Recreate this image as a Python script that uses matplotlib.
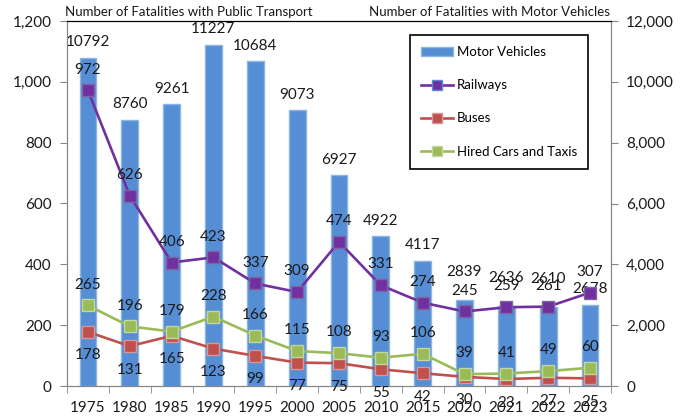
import matplotlib
matplotlib.use("Agg")
import matplotlib.pyplot as plt
import matplotlib.ticker as ticker
from matplotlib.patches import Patch
from matplotlib.lines import Line2D
import numpy as np

plt.rcParams["font.family"] = ["Lato", "DejaVu Sans"]

# Data
years = ["1975", "1980", "1985", "1990", "1995", "2000", "2005",
         "2010", "2015", "2020", "2021", "2022", "2023"]
motor_vehicles = [10792, 8760, 9261, 11227, 10684, 9073, 6927,
                  4922, 4117, 2839, 2636, 2610, 2678]
railways = [972, 626, 406, 423, 337, 309, 474, 331, 274, 245, 259, 261, 307]
buses = [178, 131, 165, 123, 99, 77, 75, 55, 42, 30, 23, 27, 25]
hired_cars = [265, 196, 179, 228, 166, 115, 108, 93, 106, 39, 41, 49, 60]

bar_color = "#558ED5"
rail_color = "#7030A0"
bus_color = "#C0504D"
taxi_color = "#9BBB59"
spine_gray = "#868686"
text_color = "#1a1a1a"

fig = plt.figure(figsize=(6.82, 4.16), dpi=100)
ax = fig.add_axes([67 / 682, 30 / 416, 544 / 682, 365 / 416])
ax2 = ax.twinx()
ax.set_zorder(2)
ax.patch.set_visible(False)

x = np.arange(len(years))

# Bars on the right axis
ax2.bar(x, motor_vehicles, width=0.4, color=bar_color,
        edgecolor="#8DB4E2", linewidth=1)
ax2.set_ylim(0, 12000)
ax2.yaxis.set_major_locator(ticker.MultipleLocator(2000))
ax2.yaxis.set_major_formatter(ticker.StrMethodFormatter("{x:,.0f}"))
for i, (xi, v) in enumerate(zip(x, motor_vehicles)):
    # labels of 2020-2022 sit higher so they clear the railway labels
    dy = 20 if years[i] in ("2020", "2021", "2022") else 11
    ax2.annotate(str(v), (xi, v), xytext=(0, dy), textcoords="offset points",
                 ha="center", va="center", fontsize=11, color=text_color)

# Lines on the left axis
line_kw = dict(linewidth=1.9, marker="s", markersize=9)
ax.plot(x, railways, color=rail_color, markerfacecolor=rail_color,
        markeredgecolor="#8064A2", **line_kw)
ax.plot(x, buses, color=bus_color, markerfacecolor=bus_color,
        markeredgecolor="#D99694", **line_kw)
ax.plot(x, hired_cars, color=taxi_color, markerfacecolor=taxi_color,
        markeredgecolor="#C3D69B", **line_kw)

for xi, v in zip(x, railways):
    ax.annotate(str(v), (xi, v), xytext=(0, 15), textcoords="offset points",
                ha="center", va="center", fontsize=11, color=text_color)
for xi, v in zip(x, hired_cars):
    ax.annotate(str(v), (xi, v), xytext=(0, 15), textcoords="offset points",
                ha="center", va="center", fontsize=11, color=text_color)
for xi, v in zip(x, buses):
    ax.annotate(str(v), (xi, v), xytext=(0, -17), textcoords="offset points",
                ha="center", va="center", fontsize=11, color=text_color)

ax.set_ylim(0, 1200)
ax.set_xlim(-0.5, len(years) - 0.5)
ax.yaxis.set_major_locator(ticker.MultipleLocator(200))
ax.yaxis.set_major_formatter(ticker.StrMethodFormatter("{x:,.0f}"))
ax.set_xticks(x)
ax.set_xticklabels(years)
ax.set_xticks(np.arange(-0.5, len(years), 1), minor=True)
ax.tick_params(axis="x", which="major", length=0, pad=11,
               labelsize=11, labelcolor=text_color)
ax.tick_params(axis="x", which="minor", length=5, color=spine_gray)
ax.tick_params(axis="y", length=5, color=spine_gray, labelsize=11,
               labelcolor=text_color, pad=6)
ax2.tick_params(axis="y", length=5, color=spine_gray, labelsize=11,
                labelcolor=text_color, pad=6)

for a in (ax, ax2):
    for side in ("left", "right", "bottom"):
        a.spines[side].set_color(spine_gray)
    a.spines["top"].set_color("black")

# Legend
handles = [
    Patch(facecolor=bar_color, edgecolor="#8DB4E2"),
    Line2D([], [], color=rail_color, marker="s", markersize=7,
           markerfacecolor=rail_color, markeredgecolor="#558ED5", linewidth=1.9),
    Line2D([], [], color=bus_color, marker="s", markersize=7,
           markerfacecolor=bus_color, markeredgecolor="#D99694", linewidth=1.9),
    Line2D([], [], color=taxi_color, marker="s", markersize=7,
           markerfacecolor=taxi_color, markeredgecolor="#C3D69B", linewidth=1.9),
]
labels = ["Motor Vehicles", "Railways", "Buses", "Hired Cars and Taxis"]
leg = ax.legend(handles, labels, loc="upper left", bbox_to_anchor=(0.6305, 0.9616),
                fontsize=9.5, labelspacing=1.6, handlelength=2.4,
                handletextpad=0.3, borderpad=0.85, borderaxespad=0,
                fancybox=False, framealpha=1, edgecolor="black")
leg.get_frame().set_linewidth(1.2)

fig.text(65 / 682, 1 - 12 / 416, "Number of Fatalities with Public Transport",
         ha="left", va="center", fontsize=9.5, color=text_color)
fig.text(610 / 682, 1 - 12 / 416, "Number of Fatalities with Motor Vehicles",
         ha="right", va="center", fontsize=9.5, color=text_color)

fig.savefig("out.png", dpi=100)
